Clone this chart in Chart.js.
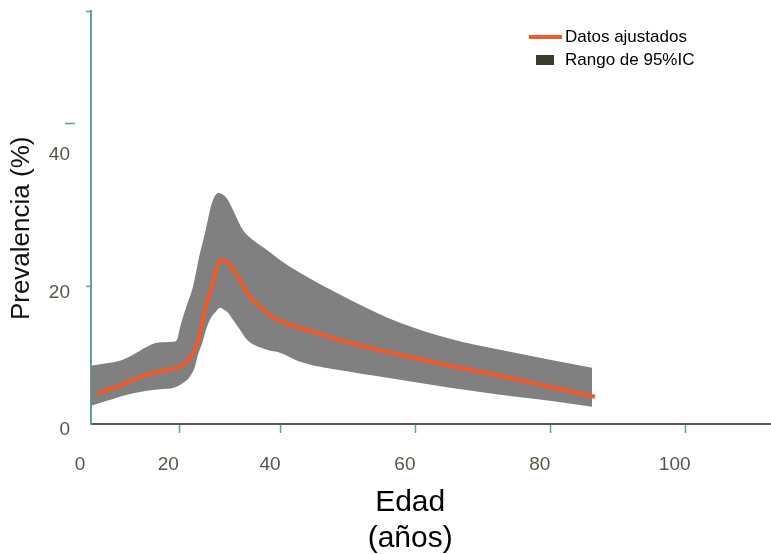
<!DOCTYPE html>
<html>
<head>
<meta charset="utf-8">
<script src="https://cdn.jsdelivr.net/npm/chart.js@4.4.1/dist/chart.umd.min.js"></script>
<style>
  html, body { margin: 0; padding: 0; background: #fff; }
  canvas { display: block; }
</style>
</head>
<body>
<canvas id="prevChart" width="771" height="554"></canvas>
<script>
// Curva ajustada (edad, prevalencia %)
const edadAjuste = [12.72, 16.13, 20.13, 22.50, 25.02, 26.51, 27.69, 28.73, 29.77, 30.51, 31.40, 32.44, 33.92, 35.40, 36.89, 38.81, 41.33, 42.82, 50.23, 57.64, 65.06, 72.47, 79.88, 86.55];
const prevAjuste = [4.40, 5.56, 7.16, 7.74, 8.36, 9.58, 11.94, 16.59, 19.93, 22.83, 23.85, 23.12, 20.94, 18.48, 17.02, 15.57, 14.41, 13.98, 11.80, 10.06, 8.46, 7.01, 5.41, 3.96];

// Limite superior del IC 95%
const edadSup = [11.83, 13.61, 16.13, 18.06, 20.13, 21.62, 23.99, 24.58, 25.02, 25.91, 26.95, 27.99, 28.73, 29.47, 29.92, 30.66, 31.25, 32.14, 32.88, 34.36, 35.85, 37.92, 39.85, 42.82, 50.23, 57.64, 65.06, 72.47, 79.88, 86.11];
const icSup = [8.46, 8.75, 9.19, 10.06, 11.22, 11.80, 11.94, 12.23, 13.98, 16.88, 19.94, 24.83, 27.73, 31.10, 32.55, 33.57, 33.42, 32.55, 31.10, 28.20, 26.74, 25.29, 23.84, 21.96, 18.05, 14.70, 12.38, 10.78, 9.33, 8.17];

// Limite inferior del IC 95%
const edadInf = [11.83, 15.09, 17.61, 20.13, 22.50, 23.99, 25.47, 26.51, 27.25, 27.69, 28.29, 28.88, 29.62, 30.21, 30.96, 31.55, 32.14, 32.88, 33.92, 34.96, 37.92, 39.85, 42.82, 50.23, 57.64, 65.06, 72.47, 79.88, 86.11];
const icInf = [2.66, 3.63, 4.35, 4.83, 5.08, 5.22, 5.95, 6.91, 8.36, 10.06, 11.65, 13.69, 15.43, 16.15, 16.88, 16.59, 16.15, 15.14, 13.69, 12.24, 10.78, 10.35, 9.04, 7.59, 6.43, 5.27, 4.26, 3.38, 2.51];

// Ejes
const xTickEdades = [11.83, 24.92, 40, 60, 80, 100];
const xTickTextos = ['0', '20', '40', '60', '80', '100'];
const yTickValores = [0, 20, 40, 43.7, 60];
const yTickTextos = ['0', '20', '40', '', ''];
const yMarcas = [20, 43.7, 60];

const TEAL = '#5fa0a8';
const EJE_X = '#5d594c';
const NARANJA = '#f15a2b';
const GRIS = '#808080';
const OSCURO = '#3e3a2e';
const TEXTO = '#5a5547';
const NADA = 'rgba(0,0,0,0)';

Chart.defaults.font.family = '"Liberation Sans", Arial, sans-serif';

function swatch(w, h, color) {
    const c = document.createElement('canvas');
    c.width = w;
    c.height = h;
    const g = c.getContext('2d');
    g.fillStyle = color;
    g.fillRect(0, 0, w, h);
    return c;
}

const toXY = (xs, ys) => xs.map((x, i) => ({ x, y: ys[i] }));

// la leyenda va dentro del area del grafico, arriba a la derecha
const moverLeyenda = {
    id: 'moverLeyenda',
    afterLayout(chart) {
        const lg = chart.legend;
        lg.left = 527.5;
        lg.top = 22.5;
        lg.right = lg.left + 240;
        lg.bottom = chart.chartArea.bottom;
    }
};

const ctx = document.getElementById('prevChart').getContext('2d');

new Chart(ctx, {
    type: 'line',
    data: {
        datasets: [
            {
                label: 'Datos ajustados',
                data: toXY(edadAjuste, prevAjuste),
                borderColor: NARANJA,
                borderWidth: 4,
                pointRadius: 0,
                fill: false,
                cubicInterpolationMode: 'monotone'
            },
            {
                label: 'IC superior',
                data: toXY(edadSup, icSup),
                borderColor: NADA,
                backgroundColor: GRIS,
                borderWidth: 1,
                pointRadius: 0,
                fill: '+1',
                cubicInterpolationMode: 'monotone'
            },
            {
                label: 'IC inferior',
                data: toXY(edadInf, icInf),
                borderColor: NADA,
                borderWidth: 1,
                pointRadius: 0,
                fill: false,
                cubicInterpolationMode: 'monotone'
            }
        ]
    },
    options: {
        responsive: false,
        animation: false,
        layout: { padding: { top: 11, right: 0, bottom: 0, left: 0 } },
        plugins: {
            tooltip: { enabled: false },
            legend: {
                position: 'chartArea',
                align: 'start',
                labels: {
                    usePointStyle: true,
                    pointStyleWidth: 23,
                    boxHeight: 10,
                    padding: 6,
                    color: TEXTO,
                    font: { size: 17 },
                    generateLabels: () => [
                        { text: 'Datos ajustados', pointStyle: swatch(33, 4, NARANJA), fillStyle: NARANJA, strokeStyle: NADA, lineWidth: 0, hidden: false, datasetIndex: 0 },
                        { text: 'Rango de 95%IC', pointStyle: swatch(18, 10, OSCURO), fillStyle: OSCURO, strokeStyle: NADA, lineWidth: 0, hidden: false, datasetIndex: 1 }
                    ]
                }
            }
        },
        scales: {
            x: {
                type: 'linear',
                min: 11.83,
                max: 112.65,
                afterBuildTicks: s => { s.ticks = xTickEdades.map(v => ({ value: v })); },
                afterFit: s => { s.height = 130; },
                border: { color: EJE_X, width: 2 },
                grid: {
                    drawOnChartArea: false,
                    tickLength: 9,
                    tickWidth: 1.5,
                    tickColor: c => (c.index === 0 ? NADA : TEAL)
                },
                ticks: {
                    autoSkip: false,
                    maxRotation: 0,
                    padding: 20,
                    labelOffset: -11,
                    color: TEXTO,
                    font: { size: 19 },
                    callback: (v, i) => xTickTextos[i]
                },
                title: {
                    display: true,
                    text: ['Edad     ', '(años)     '],
                    color: '#000',
                    font: { size: 30 },
                    padding: { top: 0, bottom: -3 }
                }
            },
            y: {
                min: 0,
                max: 60,
                afterBuildTicks: s => { s.ticks = yTickValores.map(v => ({ value: v })); },
                afterFit: s => { s.width = 91; },
                border: { color: TEAL, width: 2 },
                grid: {
                    drawOnChartArea: false,
                    tickLength: 26,
                    tickWidth: 1.5,
                    tickColor: c => (c.tick && yMarcas.includes(c.tick.value) ? TEAL : NADA),
                    tickBorderDash: c => (c.tick && c.tick.value === 43.7 ? [10, 100] : [0, 21, 6, 100])
                },
                ticks: {
                    autoSkip: false,
                    padding: -5,
                    labelOffset: 6,
                    color: TEXTO,
                    font: { size: 19 },
                    callback: (v, i) => yTickTextos[i]
                },
                title: {
                    display: true,
                    text: 'Prevalencia (%)   ',
                    color: '#111',
                    font: { size: 26 },
                    padding: { top: 6 }
                }
            }
        }
    },
    plugins: [moverLeyenda]
});
</script>
</body>
</html>
